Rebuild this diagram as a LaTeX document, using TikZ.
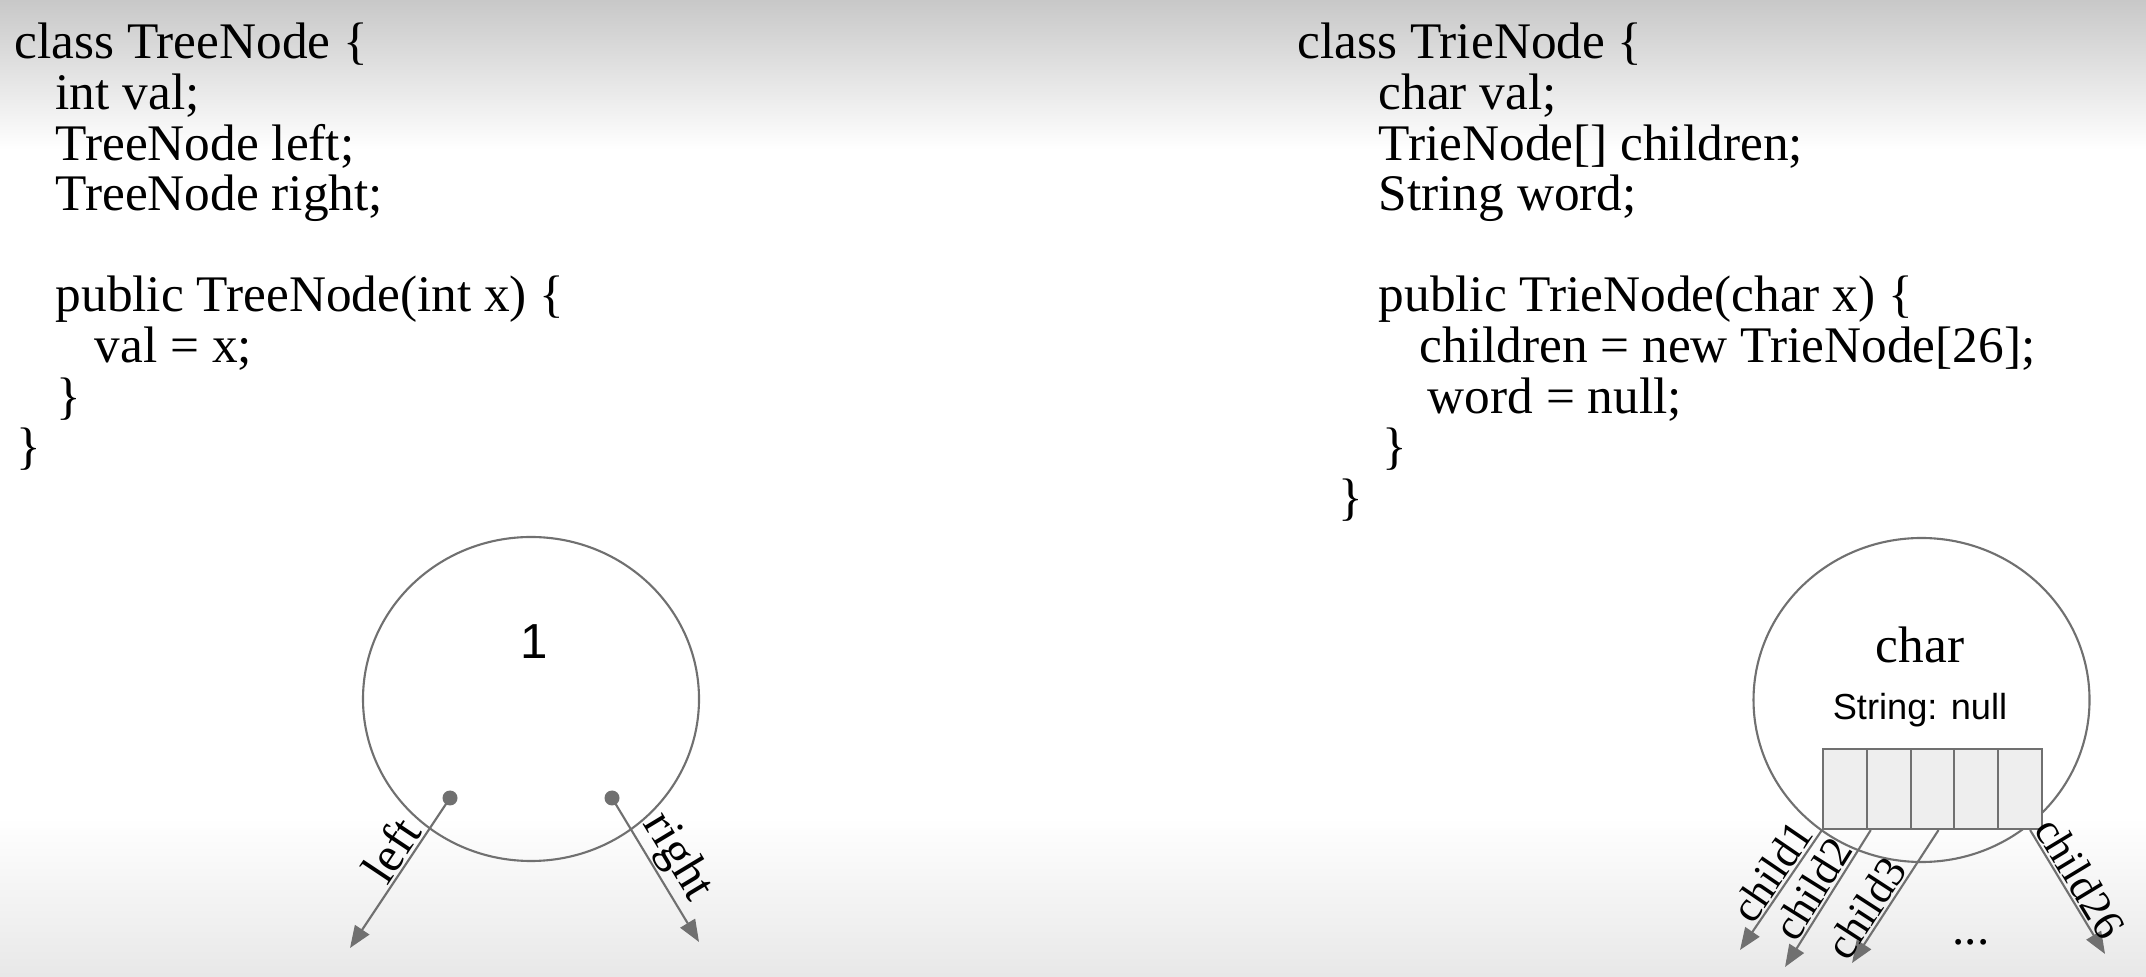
\documentclass[tikz,border=0pt]{standalone}
\usepackage{fontspec}
\setmainfont{Liberation Serif}
\newfontfamily\sansfont{Liberation Sans}
\usetikzlibrary{shapes.geometric, arrows.meta}

\definecolor{linegray}{RGB}{112,112,112}
\definecolor{cellgray}{RGB}{238,238,238}
\definecolor{topgray}{RGB}{200,200,200}
\definecolor{botgray}{RGB}{232,232,232}

\begin{document}
\begin{tikzpicture}[
    code/.style={anchor=base west, inner sep=0pt, font=\fontsize{14.6}{16}\selectfont},
    ring/.style={ellipse, draw=linegray, line width=0.6pt, minimum width=3.36cm, minimum height=3.24cm},
    cell/.style={draw=linegray, fill=cellgray, line width=0.6pt, minimum width=0.438cm, minimum height=0.8cm, inner sep=0pt},
    dot/.style={circle, fill=linegray, inner sep=0pt, minimum size=0.15cm},
    link/.style={draw=linegray, line width=0.6pt, -{Triangle[length=0.22cm, width=0.17cm]}},
    lbl/.style={sloped, above, inner sep=0.5pt, font=\fontsize{14}{14}\selectfont},
    kid/.style={lbl, font=\fontsize{12.5}{12.5}\selectfont},
  ]
  % background
  \useasboundingbox (0,0) rectangle (21.46,9.76);
  \fill[white] (0,0) rectangle (21.46,9.76);
  \shade[top color=topgray, bottom color=white] (0,8.26) rectangle (21.46,9.76);
  \shade[top color=white, bottom color=botgray] (0,0) rectangle (21.46,1.59);

  % TreeNode class
  \node[code] (t0) at (0.14,9.17) {class TreeNode \{};
  \node[code] (t1) at (0.55,8.664) {int val;};
  \node[code] (t2) at (0.55,8.158) {TreeNode left;};
  \node[code] (t3) at (0.55,7.652) {TreeNode right;};
  \node[code] (t4) at (0.55,6.64) {public TreeNode(int x) \{};
  \node[code] (t5) at (0.94,6.134) {val = x;};
  \node[code] (t6) at (0.56,5.628) {\}};
  \node[code] (t7) at (0.16,5.122) {\}};

  % TrieNode class
  \node[code] (r0) at (12.97,9.17) {class TrieNode \{};
  \node[code] (r1) at (13.78,8.664) {char val;};
  \node[code] (r2) at (13.78,8.158) {TrieNode[] children;};
  \node[code] (r3) at (13.78,7.652) {String word;};
  \node[code] (r4) at (13.78,6.64) {public TrieNode(char x) \{};
  \node[code] (r5) at (14.19,6.134) {children = new TrieNode[26];};
  \node[code] (r6) at (14.27,5.628) {word = null;};
  \node[code] (r7) at (13.82,5.122) {\}};
  \node[code] (r8) at (13.38,4.616) {\}};

  % tree node
  \node[ring] (tree) at (5.31,2.77) {};
  \node[font=\sansfont\fontsize{14}{14}\selectfont] (val) at (5.34,3.34) {1};
  \node[dot] (dl) at (4.50,1.78) {};
  \node[dot] (dr) at (6.12,1.78) {};
  \coordinate (tl) at (3.50,0.28);
  \coordinate (tr) at (6.99,0.34);
  \draw[link] (dl.center) -- node[lbl, pos=0.42] {left} (tl);
  \draw[link] (dr.center) -- node[lbl, pos=0.5] {right} (tr);

  % trie node
  \node[ring] (trie) at (19.215,2.76) {};
  \node[font=\fontsize{14.6}{14}\selectfont] (ch) at (19.20,3.31) {char};
  \node[font=\sansfont\fontsize{10.3}{12}\selectfont] (str) at (19.20,2.66) {String: null};
  \foreach \i in {1,...,5}
    \node[cell] (cell\i) at ({18.23+0.438*(\i-0.5)},1.87) {};

  \coordinate (c1) at (17.40,0.26);
  \coordinate (c2) at (17.85,0.09);
  \coordinate (c3) at (18.52,0.13);
  \coordinate (c26) at (21.05,0.22);
  \draw[link] (cell1.south west) -- node[kid, pos=0.43] {child1} (c1);
  \draw[link] ([xshift=0.05cm]cell2.south west) -- node[kid, pos=0.5] {child2} (c2);
  \draw[link] ([xshift=0.06cm]cell3.south) -- node[kid, pos=0.66] {child3} (c3);
  \draw[link] ([xshift=0.1cm]cell5.south) -- node[kid, pos=0.46] {child26} (c26);
  \node[font=\fontsize{14}{14}\selectfont] (more) at (19.71,0.34) {...};
\end{tikzpicture}
\end{document}
